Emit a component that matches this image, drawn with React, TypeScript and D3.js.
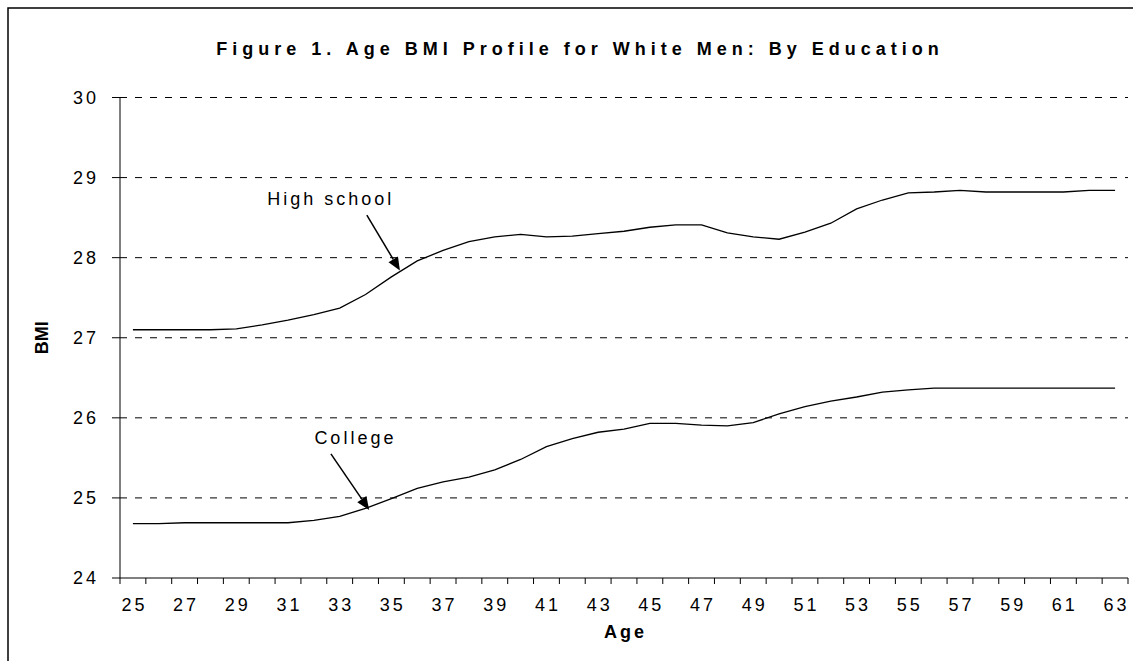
import React from "react";
import * as d3 from "d3";

// ages on the x axis (one category per year)
const ages = d3.range(25, 64);
const tickAges = ages.filter((a) => a % 2 === 1);
const bmiTicks = [24, 25, 26, 27, 28, 29, 30];

// BMI profile
const highSchool = [
  27.1, 27.1, 27.1, 27.1, 27.11, 27.16, 27.22, 27.29, 27.37, 27.54,
  27.76, 27.96, 28.09, 28.2, 28.26, 28.29, 28.26, 28.27, 28.3, 28.33,
  28.38, 28.41, 28.41, 28.31, 28.26, 28.23, 28.32, 28.43, 28.61, 28.72,
  28.81, 28.82, 28.84, 28.82, 28.82, 28.82, 28.82, 28.84, 28.84,
];
const college = [
  24.68, 24.68, 24.69, 24.69, 24.69, 24.69, 24.69, 24.72, 24.77, 24.87,
  24.99, 25.12, 25.2, 25.26, 25.35, 25.48, 25.64, 25.74, 25.82, 25.86,
  25.93, 25.93, 25.91, 25.9, 25.94, 26.05, 26.14, 26.21, 26.26, 26.32,
  26.35, 26.37, 26.37, 26.37, 26.37, 26.37, 26.37, 26.37, 26.37,
];

// labels with arrows: text position and arrow start/tip, in (age, BMI)
const notes = [
  { label: "High school", text: [32.6, 28.66], from: [34.05, 28.53], to: [35.33, 27.84] },
  { label: "College", text: [33.55, 25.67], from: [32.66, 25.55], to: [34.14, 24.85] },
];

const W = 1133;
const H = 661;
const margin = { top: 97.5, right: 5, bottom: 83, left: 120 };
const font = "Arial, 'Liberation Sans', sans-serif";

export default function App() {
  const x = d3
    .scaleBand<number>()
    .domain(ages)
    .range([margin.left, W - margin.right])
    .padding(0);
  // continuous version of the band scale, for the annotations
  const xc = d3
    .scaleLinear()
    .domain([ages[0] - 0.5, ages[ages.length - 1] + 0.5])
    .range([margin.left, W - margin.right]);
  const y = d3
    .scaleLinear()
    .domain([24, 30])
    .range([H - margin.bottom, margin.top]);

  const line = d3
    .line<number>()
    .x((_, i) => (x(ages[i]) as number) + x.bandwidth() / 2)
    .y((d) => y(d));

  const x0 = margin.left;
  const x1 = W - margin.right;
  const yb = y(24);
  const bounds = ages.map((a) => x(a) as number).concat([x1]);

  return (
    <svg width={W} height={H} style={{ position: "absolute", left: 0, top: 0 }} fontFamily={font}>
      <rect x={0} y={0} width={W} height={H} fill="#fff" />
      <rect x={8} y={8} width={W + 20} height={H + 20} fill="none" stroke="#000" strokeWidth={1.5} />

      <text x={580} y={55} textAnchor="middle" fontSize={18} fontWeight="bold" letterSpacing={5}>
        Figure 1. Age BMI Profile for White Men: By Education
      </text>

      {/* grid */}
      {bmiTicks.filter((t) => t > 24).map((t) => (
        <line key={t} x1={x0} x2={x1} y1={y(t)} y2={y(t)} stroke="#000" strokeDasharray="7,8" />
      ))}

      {/* y axis */}
      <line x1={x0} x2={x0} y1={y(30)} y2={yb} stroke="#000" />
      {bmiTicks.map((t) => (
        <g key={t}>
          <line x1={x0 - 8} x2={x0} y1={y(t)} y2={y(t)} stroke="#000" />
          <text x={99} y={y(t)} dy="0.36em" textAnchor="end" fontSize={18} letterSpacing={3}>
            {t}
          </text>
        </g>
      ))}

      {/* x axis */}
      <line x1={x0} x2={x1} y1={yb} y2={yb} stroke="#000" />
      {bounds.map((bx, i) => (
        <line key={i} x1={bx} x2={bx} y1={yb} y2={yb + 6} stroke="#000" />
      ))}
      {tickAges.map((a) => (
        <text key={a} x={(x(a) as number) + x.bandwidth() / 2 + 1.5} y={611} textAnchor="middle" fontSize={18} letterSpacing={3}>
          {a}
        </text>
      ))}

      <text x={(x0 + x1) / 2 + 1.5} y={638} textAnchor="middle" fontSize={18} fontWeight="bold" letterSpacing={3}>
        Age
      </text>
      <text transform={`translate(48,${(y(24) + y(30)) / 2}) rotate(-90)`} textAnchor="middle" fontSize={18} fontWeight="bold">
        BMI
      </text>

      {/* series */}
      <path d={line(highSchool) ?? ""} fill="none" stroke="#000" strokeWidth={1.3} />
      <path d={line(college) ?? ""} fill="none" stroke="#000" strokeWidth={1.3} />

      {/* annotations */}
      {notes.map((n) => {
        const fx = xc(n.from[0]);
        const fy = y(n.from[1]);
        const tx = xc(n.to[0]);
        const ty = y(n.to[1]);
        const ang = Math.atan2(ty - fy, tx - fx);
        const len = 13;
        const half = 5.5;
        const bx = tx - len * Math.cos(ang);
        const by = ty - len * Math.sin(ang);
        const px = -Math.sin(ang) * half;
        const py = Math.cos(ang) * half;
        return (
          <g key={n.label}>
            <text x={xc(n.text[0]) + 1.5} y={y(n.text[1])} textAnchor="middle" fontSize={18} letterSpacing={3}>
              {n.label}
            </text>
            <line x1={fx} y1={fy} x2={bx} y2={by} stroke="#000" strokeWidth={1.5} />
            <path d={`M${tx},${ty}L${bx + px},${by + py}L${bx - px},${by - py}Z`} fill="#000" />
          </g>
        );
      })}
    </svg>
  );
}
